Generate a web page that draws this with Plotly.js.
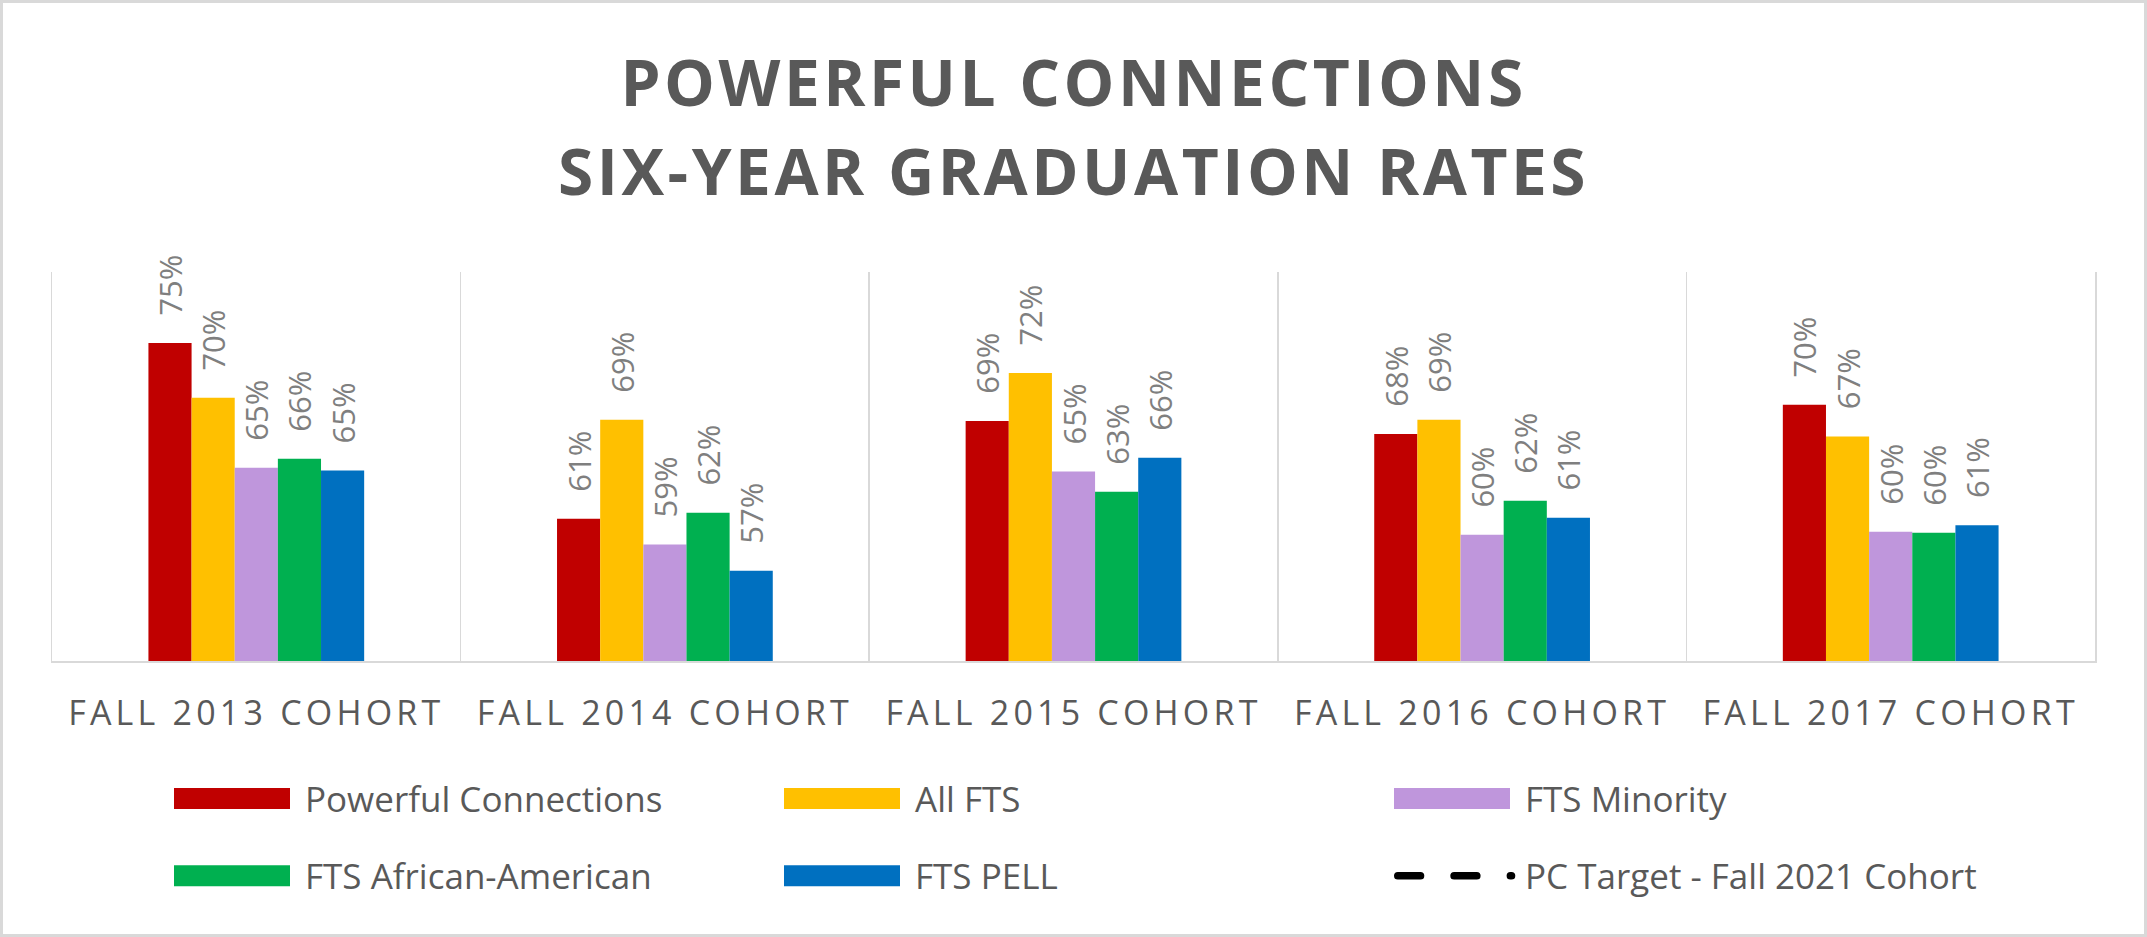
<!DOCTYPE html>
<html><head><meta charset="utf-8">
<script src="https://cdn.plot.ly/plotly-3.0.1.min.js"></script>
<style>
html,body{margin:0;padding:0;background:#fff;}
#frame{width:2147px;height:937px;box-sizing:border-box;border:3px solid #d9d9d9;background:#fff;overflow:hidden;}
#chart{width:2141px;height:931px;}
</style></head><body>
<div id="frame"><div id="chart"></div></div>
<script>
// ---- data ----
const categories = ['FALL 2013 COHORT', 'FALL 2014 COHORT', 'FALL 2015 COHORT', 'FALL 2016 COHORT', 'FALL 2017 COHORT'];
const seriesNames = ['Powerful Connections', 'All FTS', 'FTS Minority', 'FTS African-American', 'FTS PELL', 'PC Target - Fall 2021 Cohort'];
const powerfulConnections = [0.7472, 0.6105, 0.6866, 0.6765, 0.6991];
const allFts             = [0.7045, 0.6874, 0.7239, 0.6874, 0.6745];
const ftsMinority        = [0.6501, 0.5905, 0.6472, 0.5981, 0.6004];
const ftsAfricanAmerican = [0.6571, 0.6152, 0.6315, 0.6245, 0.5996];
const ftsPell            = [0.6480, 0.5701, 0.6579, 0.6113, 0.6055];
const pcTarget           = [null, null, null, null, null];
const chartTitle = 'POWERFUL CONNECTIONS<br>SIX-YEAR GRADUATION RATES';

// ---- styles ----
const barColors = ['#C00000', '#FFC000', '#BF96DC', '#00B050', '#0070C0'];
const barValues = [powerfulConnections, allFts, ftsMinority, ftsAfricanAmerican, ftsPell];
const barLegends = ['legend', 'legend', 'legend', 'legend2', 'legend2'];
const labelFont = {family: 'Open Sans', size: 31, color: '#7f7f7f'};

const data = barValues.map((vals, i) => ({
  type: 'bar',
  name: seriesNames[i],
  x: categories,
  y: vals,
  marker: {color: barColors[i], line: {width: 0}},
  texttemplate: '\u00a0\u00a0\u00a0%{y:.0%}',
  textposition: 'outside',
  textangle: -90,
  textfont: labelFont,
  outsidetextfont: labelFont,
  constraintext: 'none',
  cliponaxis: false,
  hoverinfo: 'skip',
  legend: barLegends[i]
}));
data.push({
  type: 'scatter',
  mode: 'lines',
  name: seriesNames[5],
  x: categories,
  y: pcTarget,
  line: {color: '#000000', width: 7.7, dash: '22.6px,33.7px'},
  hoverinfo: 'skip',
  legend: 'legend2'
});

const legendCommon = {
  orientation: 'h',
  xref: 'container', yref: 'container',
  xanchor: 'left', yanchor: 'middle',
  x: 156 / 2141,
  font: {family: 'Open Sans', size: 35, color: '#595959'},
  itemwidth: 136,
  entrywidth: 459,
  entrywidthmode: 'pixels',
  bgcolor: 'rgba(0,0,0,0)',
  borderwidth: 0,
  traceorder: 'normal'
};

const layout = {
  width: 2141, height: 931,
  paper_bgcolor: '#ffffff', plot_bgcolor: '#ffffff',
  margin: {l: 49, r: 49, t: 269, b: 273, autoexpand: false},
  title: {
    text: chartTitle,
    xref: 'container', yref: 'container',
    x: 0.5, xanchor: 'center',
    y: 1 - 103 / 931, yanchor: 'top',
    font: {family: 'Open Sans', size: 64, color: '#595959', weight: 700}
  },
  barmode: 'group',
  bargap: 0.472,
  bargroupgap: 0,
  showlegend: true,
  legend: Object.assign({}, legendCommon, {y: 1 - 795.8 / 931}),
  legend2: Object.assign({}, legendCommon, {y: 1 - 873 / 931}),
  xaxis: {
    type: 'category',
    tickson: 'boundaries',
    showgrid: true, gridcolor: '#d9d9d9', gridwidth: 1.5,
    showline: true, linecolor: '#d9d9d9', linewidth: 2,
    ticks: '',
    ticklabelstandoff: 21,
    tickfont: {family: 'Open Sans', size: 34, color: '#595959'},
    automargin: false,
    fixedrange: true
  },
  yaxis: {
    range: [0.5, 0.8023],
    showgrid: false, zeroline: false,
    showticklabels: false, ticks: '',
    showline: true, mirror: true, linecolor: '#d9d9d9', linewidth: 1.5,
    automargin: false,
    fixedrange: true
  }
};

Plotly.newPlot('chart', data, layout, {staticPlot: true, displayModeBar: false}).then(gd => {
  gd.querySelectorAll('.gtitle').forEach(t => {
    t.style.letterSpacing = '3.5px';
    const lines = t.querySelectorAll('tspan.line');
    if (lines.length > 1) lines[1].setAttribute('dy', '1.39em');
  });
  gd.querySelectorAll('.xtick text').forEach(t => { t.style.letterSpacing = '4.2px'; });
  gd.querySelectorAll('g.traces').forEach(tr => {
    const isLine = tr.querySelector('g.legendlines path') !== null;
    if (!isLine) {
      tr.querySelectorAll('.legendpoints path').forEach(p => {
        p.setAttribute('d', 'M-58,-10.5h116v21h-116Z');
      });
    }
    tr.querySelectorAll('g.legendlines path').forEach(p => {
      p.setAttribute('d', 'M18.85,0h113.6');
      p.style.strokeLinecap = 'round';
    });
  });
});
</script>
</body></html>
